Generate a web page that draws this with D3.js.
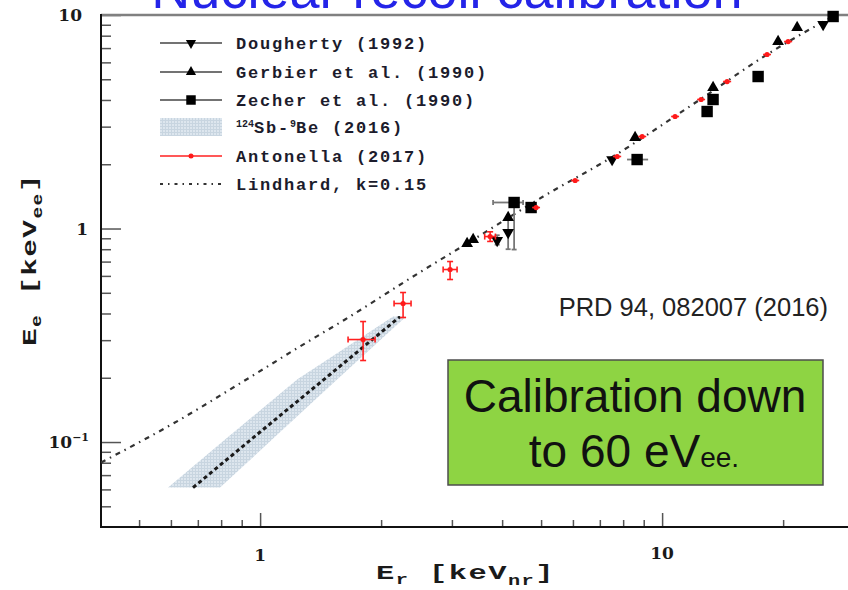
<!DOCTYPE html>
<html>
<head>
<meta charset="utf-8">
<script src="https://cdn.jsdelivr.net/npm/d3@7"></script>
<style>
  html, body { margin: 0; padding: 0; background: #fff; }
  svg { display: block; }
</style>
</head>
<body>
<svg id="chart" width="848" height="590"></svg>
<script>
// ---------------- DATA ----------------
const xTickLabels = [1, 10];
const yTickLabels = [0.1, 1, 10];

// Dougherty (1992) – down triangles
const dougEr = [3.888, 4.14, 7.509, 25.15];
const dougEe = [0.8786, 0.958, 2.104, 9.03];
const dougYLo = [0.84, 0.80, null, null];
const dougYHi = [0.93, 1.12, null, null];

// Gerbier et al. (1990) – up triangles
const gerbEr = [3.273, 3.388, 4.14, 8.567, 13.39, 19.43, 21.67];
const gerbEe = [0.851, 0.888, 1.126, 2.668, 4.575, 7.51, 8.74];

// Zecher et al. (1990) – squares
const zechEr = [4.284, 4.722, 8.666, 12.94, 13.39, 17.33, 26.63];
const zechEe = [1.324, 1.254, 2.104, 3.532, 4.02, 5.15, 9.84];
const zechXLo = [3.798, null, 8.18, null, null, null, null];
const zechXHi = [4.51, null, 9.23, null, null, null, null];
const zechYLo = [0.797, null, null, null, null, null, null];
const zechYHi = [1.34, null, null, null, null, null, null];

// Antonella (2017) – red points with error bars
const antEr  = [1.804, 2.268, 2.969, 3.734, 4.86, 6.076, 7.73, 8.92, 10.77, 12.5, 14.51, 18.24, 20.58];
const antEe  = [0.302, 0.4454, 0.6427, 0.917, 1.254, 1.678, 2.174, 2.697, 3.347, 4.02, 4.88, 6.53, 7.51];
const antXLo = [1.655, 2.154, 2.853, 3.62, 4.75, 5.94, 7.55, 8.72, 10.53, 12.22, 14.18, 17.83, 20.11];
const antXHi = [1.932, 2.374, 3.09, 3.85, 4.97, 6.22, 7.91, 9.13, 11.02, 12.79, 14.85, 18.66, 21.06];
const antYLo = [0.2409, 0.383, 0.577, 0.87, null, null, null, null, null, null, null, null, null];
const antYHi = [0.3667, 0.5015, 0.7005, 0.965, null, null, null, null, null, null, null, null, null];

// 124Sb-9Be (2016) band: Ee levels with left / right Er edges, plus central dashed fit
const bandEe    = [0.0612, 0.1027, 0.1965, 0.387];
const bandErLo  = [0.5904, 0.818, 1.236, 2.142];
const bandErHi  = [0.795, 1.071, 1.554, 2.308];
const sbbeEr = [0.681, 1.0, 1.5, 2.23];
const sbbeEe = [0.0612, 0.1114, 0.2089, 0.387];

// Lindhard, k=0.15
const lindEr = [0.402, 0.614, 0.907, 1.279, 1.627, 2.402, 3.33, 5.06, 7.55, 12.43, 18.24, 26.6];
const lindEe = [0.0802, 0.1234, 0.192, 0.286, 0.375, 0.596, 0.869, 1.412, 2.174, 4.02, 6.53, 9.84];

const legendLabels = ["Dougherty (1992)", "Gerbier et al. (1990)", "Zecher et al. (1990)",
                      "Sb-Be (2016)", "Antonella (2017)", "Lindhard, k=0.15"];

// ---------------- LAYOUT ----------------
const svg = d3.select("#chart");
const L = 101, R = 848, T = 15, B = 527;
const x = d3.scaleLog().domain([0.402, 29.0]).range([L, R]);
const y = d3.scaleLog().domain([0.04, 10]).range([B, T]);

const monoFont = "'Liberation Mono', 'DejaVu Sans Mono', monospace";
const serifFont = "'DejaVu Serif', 'Liberation Serif', serif";
const sansFont = "'Liberation Sans', Arial, sans-serif";

// defs: band texture
const defs = svg.append("defs");
const pat = defs.append("pattern").attr("id", "bandPat").attr("patternUnits", "userSpaceOnUse")
  .attr("width", 3).attr("height", 3);
pat.append("rect").attr("width", 3).attr("height", 3).attr("fill", "#dde6ee");
pat.append("path").attr("d", "M0,0.5H3M0.5,0V3").attr("stroke", "#c8d5e0").attr("stroke-width", 1);

// Title (cut off at top, as in the reference)
svg.append("text").attr("x", 447).attr("y", 8)
  .attr("text-anchor", "middle").attr("font-family", sansFont).attr("font-size", 54)
  .attr("fill", "#2424e8").text("Nuclear recoil calibration");

// ---------------- AXES ----------------
const yMinor = [];
[0.01, 0.1, 1].forEach(dec => { for (let k = 2; k <= 9; k++) { const v = dec * k; if (v > 0.04 && v < 10) yMinor.push(v); } });
const xMinor = [];
[0.1, 1, 10].forEach(dec => { for (let k = 2; k <= 9; k++) { const v = dec * k; if (v > 0.402 && v < 29) xMinor.push(v); } });

const yAxisG = svg.append("g").attr("transform", `translate(${L},0)`)
  .call(d3.axisRight(y).tickValues(yMinor).tickSize(10).tickFormat(""));
const yAxisMaj = svg.append("g").attr("transform", `translate(${L},0)`)
  .call(d3.axisRight(y).tickValues(yTickLabels).tickSize(20).tickFormat(""));
const xAxisG = svg.append("g").attr("transform", `translate(0,${B})`)
  .call(d3.axisTop(x).tickValues(xMinor).tickSize(7).tickFormat(""));
const xAxisMaj = svg.append("g").attr("transform", `translate(0,${B})`)
  .call(d3.axisTop(x).tickValues(xTickLabels).tickSize(14).tickFormat(""));
[yAxisG, yAxisMaj, xAxisG, xAxisMaj].forEach(g => {
  g.select(".domain").remove();
  g.selectAll(".tick line").attr("stroke", "#555").attr("stroke-width", 1.5);
});

// frame
svg.append("line").attr("x1", L).attr("x2", R).attr("y1", T).attr("y2", T)
  .attr("stroke", "#808080").attr("stroke-width", 2.5);
svg.append("line").attr("x1", L).attr("x2", L).attr("y1", T - 1).attr("y2", B + 1)
  .attr("stroke", "#111").attr("stroke-width", 2);
svg.append("line").attr("x1", L - 1).attr("x2", R).attr("y1", B).attr("y2", B)
  .attr("stroke", "#111").attr("stroke-width", 2);

// y tick labels
const ylab = svg.append("g").attr("font-family", serifFont).attr("font-weight", "bold")
  .attr("font-size", 17).attr("fill", "#1a1a1a");
yTickLabels.forEach(v => {
  const t = ylab.append("text").attr("y", y(v) + 6).attr("text-anchor", "end");
  if (v === 10) { t.attr("x", 82).text("10"); }
  else if (v === 1) { t.attr("x", 88).text("1"); }
  else {
    t.attr("x", 89);
    t.append("tspan").text("10");
    t.append("tspan").attr("dy", -7).attr("font-size", 11).text("\u22121");
  }
});
// x tick labels
const xlab = svg.append("g").attr("font-family", serifFont).attr("font-weight", "bold")
  .attr("font-size", 17).attr("fill", "#1a1a1a").attr("text-anchor", "middle");
xTickLabels.forEach(v => {
  xlab.append("text").attr("x", x(v)).attr("y", v === 1 ? 561 : 559).text(v);
});

// axis titles (wide bold glyphs, stretched horizontally)
function axisTitle(t, main, sub) {
  t.append("tspan").text("E");
  t.append("tspan").attr("dy", 5).attr("font-size", 14).text(main);
  t.append("tspan").attr("dy", -5).text(" [keV");
  t.append("tspan").attr("dy", 6).attr("font-size", 14).text(sub);
  t.append("tspan").attr("dy", -6).text("]");
}
const xt = svg.append("text").attr("transform", "translate(376,579) scale(1.45,1)")
  .attr("font-family", monoFont).attr("font-weight", "bold").attr("font-size", 21)
  .attr("letter-spacing", 1).attr("fill", "#1a1a1a");
axisTitle(xt, "r", "nr");

const yt = svg.append("text").attr("transform", "translate(36,346) rotate(-90) scale(1.4,1)")
  .attr("font-family", monoFont).attr("font-weight", "bold").attr("font-size", 21)
  .attr("letter-spacing", 1).attr("fill", "#1a1a1a");
axisTitle(yt, "e", "ee");

// ---------------- PLOT CONTENT ----------------
const plot = svg.append("g");

// Sb-Be band
const bandPts = bandEe.map((e, i) => [x(bandErLo[i]), y(e)])
  .concat(bandEe.map((e, i) => [x(bandErHi[i]), y(e)]).reverse());
plot.append("path").attr("d", "M" + bandPts.map(p => p.join(",")).join("L") + "Z")
  .attr("fill", "url(#bandPat)").attr("stroke", "none");

const line = d3.line().x(d => x(d[0])).y(d => y(d[1])).curve(d3.curveMonotoneX);
plot.append("path").attr("d", line(sbbeEr.map((v, i) => [v, sbbeEe[i]])))
  .attr("fill", "none").attr("stroke", "#1a1a1a").attr("stroke-width", 3)
  .attr("stroke-dasharray", "4,3");

// Lindhard
defs.append("clipPath").attr("id", "clipPlot").append("rect")
  .attr("x", L).attr("y", T).attr("width", R - L).attr("height", B - T);
plot.append("path").attr("clip-path", "url(#clipPlot)")
  .attr("d", line(lindEr.map((v, i) => [v, lindEe[i]])))
  .attr("fill", "none").attr("stroke", "#333").attr("stroke-width", 2.2)
  .attr("stroke-dasharray", "5,5,1.5,5");

// error bar helper (caps only on points that carry vertical errors)
function errBars(g, Er, Ee, xLo, xHi, yLo, yHi, color, w, cap) {
  Er.forEach((v, i) => {
    const cx = x(v), cy = y(Ee[i]);
    const hasY = yLo && yLo[i] != null;
    if (xLo && xLo[i] != null) {
      g.append("line").attr("x1", x(xLo[i])).attr("x2", x(xHi[i])).attr("y1", cy).attr("y2", cy)
        .attr("stroke", color).attr("stroke-width", w);
      if (cap && hasY) [xLo[i], xHi[i]].forEach(e => g.append("line").attr("x1", x(e)).attr("x2", x(e))
        .attr("y1", cy - cap).attr("y2", cy + cap).attr("stroke", color).attr("stroke-width", w));
    }
    if (hasY) {
      g.append("line").attr("x1", cx).attr("x2", cx).attr("y1", y(yLo[i])).attr("y2", y(yHi[i]))
        .attr("stroke", color).attr("stroke-width", w);
      if (cap) [yLo[i], yHi[i]].forEach(e => g.append("line").attr("y1", y(e)).attr("y2", y(e))
        .attr("x1", cx - cap).attr("x2", cx + cap).attr("stroke", color).attr("stroke-width", w));
    }
  });
}

const blackG = plot.append("g");
errBars(blackG, zechEr, zechEe, zechXLo, zechXHi, zechYLo, zechYHi, "#777", 1.8, 2.5);
errBars(blackG, dougEr, dougEe, null, null, dougYLo, dougYHi, "#777", 1.8, 2.5);

const triUp = d3.symbol().type(d3.symbolTriangle).size(60)();
const sq = d3.symbol().type(d3.symbolSquare).size(130)();

gerbEr.forEach((v, i) => blackG.append("path").attr("d", triUp)
  .attr("transform", `translate(${x(v)},${y(gerbEe[i])})`).attr("fill", "#000"));
dougEr.forEach((v, i) => blackG.append("path").attr("d", triUp)
  .attr("transform", `translate(${x(v)},${y(dougEe[i])}) rotate(180)`).attr("fill", "#000"));
zechEr.forEach((v, i) => blackG.append("path").attr("d", sq)
  .attr("transform", `translate(${x(v)},${y(zechEe[i])})`).attr("fill", "#000"));

// Antonella
const redG = plot.append("g");
errBars(redG, antEr, antEe, antXLo, antXHi, antYLo, antYHi, "#ff2020", 1.6, 3);
antEr.forEach((v, i) => redG.append("circle").attr("cx", x(v)).attr("cy", y(antEe[i]))
  .attr("r", 2.6).attr("fill", "#ff1a1a"));

// ---------------- LEGEND ----------------
const lg = svg.append("g");
const rowsY = [43, 72, 100, 127, 156, 184];
const lx1 = 160, lx2 = 222, lmx = 191, ltx = 236;
lg.selectAll("text.leg").data(legendLabels).enter().append("text")
  .attr("x", ltx).attr("y", (d, i) => rowsY[i] + 5.5)
  .attr("font-family", monoFont).attr("font-weight", "bold").attr("font-size", 17)
  .attr("letter-spacing", 1.8).attr("fill", "#1c1c2c")
  .each(function(d, i) {
    const t = d3.select(this);
    if (i === 3) {
      t.append("tspan").attr("font-size", 10).attr("dy", -6).attr("letter-spacing", 0).text("124");
      t.append("tspan").attr("dy", 6).text("Sb-");
      t.append("tspan").attr("font-size", 10).attr("dy", -6).attr("letter-spacing", 0).text("9");
      t.append("tspan").attr("dy", 6).text("Be (2016)");
    } else t.text(d);
  });
[0, 1, 2].forEach(i => lg.append("line").attr("x1", lx1).attr("x2", lx2)
  .attr("y1", rowsY[i]).attr("y2", rowsY[i]).attr("stroke", "#444").attr("stroke-width", 1.5));
lg.append("path").attr("d", d3.symbol().type(d3.symbolTriangle).size(45)())
  .attr("transform", `translate(${lmx},${rowsY[0]}) rotate(180)`);
lg.append("path").attr("d", d3.symbol().type(d3.symbolTriangle).size(45)())
  .attr("transform", `translate(${lmx},${rowsY[1]})`);
lg.append("path").attr("d", d3.symbol().type(d3.symbolSquare).size(90)())
  .attr("transform", `translate(${lmx},${rowsY[2]})`);
lg.append("rect").attr("x", lx1).attr("y", rowsY[3] - 9).attr("width", lx2 - lx1).attr("height", 18)
  .attr("fill", "url(#bandPat)");
lg.append("line").attr("x1", lx1).attr("x2", lx2).attr("y1", rowsY[4]).attr("y2", rowsY[4])
  .attr("stroke", "#ff2020").attr("stroke-width", 1.5);
lg.append("circle").attr("cx", lmx).attr("cy", rowsY[4]).attr("r", 2.5).attr("fill", "#ff1a1a");
lg.append("line").attr("x1", lx1).attr("x2", lx2).attr("y1", rowsY[5]).attr("y2", rowsY[5])
  .attr("stroke", "#333").attr("stroke-width", 2).attr("stroke-dasharray", "3,5,1.5,5");

// ---------------- ANNOTATIONS ----------------
svg.append("text").attr("x", 828).attr("y", 316).attr("text-anchor", "end")
  .attr("font-family", sansFont).attr("font-size", 25.5).attr("fill", "#222")
  .text("PRD 94, 082007 (2016)");

svg.append("rect").attr("x", 448).attr("y", 360).attr("width", 375).attr("height", 125)
  .attr("fill", "#8ed443").attr("stroke", "#4d4d4d").attr("stroke-width", 1.5);
svg.append("text").attr("x", 635).attr("y", 412).attr("text-anchor", "middle")
  .attr("font-family", sansFont).attr("font-size", 46).attr("fill", "#111")
  .text("Calibration down");
const l2 = svg.append("text").attr("x", 634).attr("y", 467).attr("text-anchor", "middle")
  .attr("font-family", sansFont).attr("font-size", 46).attr("fill", "#111");
l2.append("tspan").text("to 60 eV");
l2.append("tspan").attr("font-size", 28).text("ee.");
</script>
</body>
</html>
